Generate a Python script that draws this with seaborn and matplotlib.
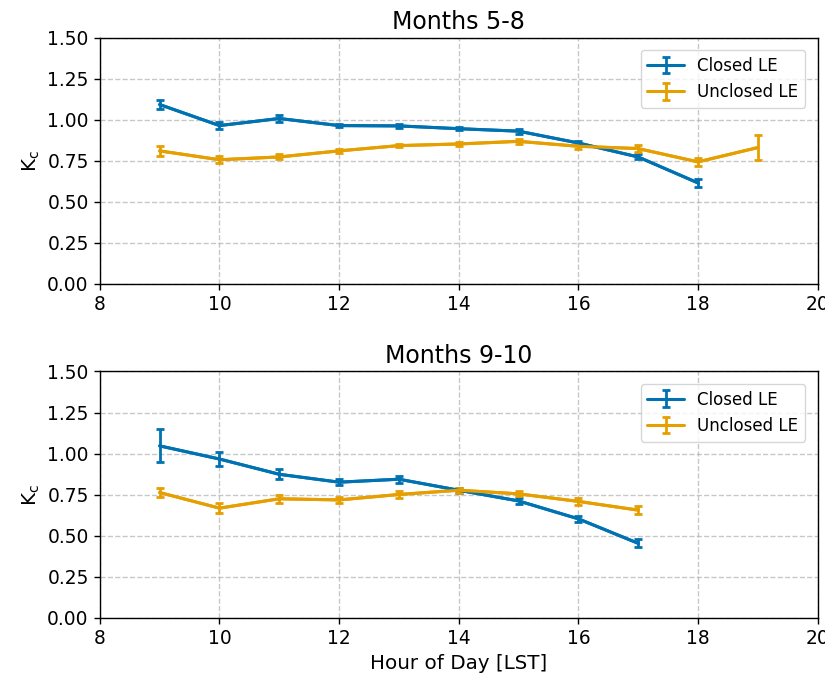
import numpy as np
import pandas as pd
import matplotlib
matplotlib.use("Agg")
import matplotlib.pyplot as plt
import seaborn as sns

# Hourly crop coefficient (Kc) means and standard errors
hours_summer = [9, 10, 11, 12, 13, 14, 15, 16, 17, 18, 19]
closed_summer = [1.092, 0.964, 1.007, 0.964, 0.962, 0.945, 0.930, 0.858, 0.773, 0.615]
closed_summer_err = [0.03, 0.02, 0.02, 0.01, 0.01, 0.01, 0.015, 0.015, 0.015, 0.025]
unclosed_summer = [0.810, 0.756, 0.773, 0.810, 0.842, 0.852, 0.868, 0.838, 0.824, 0.743, 0.830]
unclosed_summer_err = [0.03, 0.02, 0.015, 0.01, 0.01, 0.01, 0.015, 0.015, 0.02, 0.025, 0.076]

hours_autumn = [9, 10, 11, 12, 13, 14, 15, 16, 17]
closed_autumn = [1.047, 0.967, 0.874, 0.826, 0.844, 0.777, 0.712, 0.603, 0.454]
closed_autumn_err = [0.10, 0.045, 0.03, 0.02, 0.02, 0.015, 0.02, 0.02, 0.025]
unclosed_autumn = [0.763, 0.668, 0.725, 0.718, 0.751, 0.777, 0.755, 0.709, 0.656]
unclosed_autumn_err = [0.025, 0.03, 0.025, 0.02, 0.02, 0.015, 0.015, 0.02, 0.025]

titles = ["Months 5-8", "Months 9-10"]
series_labels = ["Closed LE", "Unclosed LE"]
x_ticks = [8, 10, 12, 14, 16, 18, 20]
y_ticks = [0.0, 0.25, 0.5, 0.75, 1.0, 1.25, 1.5]

sns.set_theme(style="ticks", context="notebook")
plt.rcParams["font.family"] = ["DejaVu Sans"]
plt.rcParams["text.color"] = "black"
plt.rcParams["axes.labelcolor"] = "black"
colors = ["#0072B2", "#E69F00"]

panels = [
    (hours_summer, [closed_summer, unclosed_summer], [closed_summer_err, unclosed_summer_err]),
    (hours_autumn, [closed_autumn, unclosed_autumn], [closed_autumn_err, unclosed_autumn_err]),
]

fig, axes = plt.subplots(2, 1, figsize=(8.25, 6.82), dpi=100)
fig.subplots_adjust(left=0.121, right=0.991, top=0.945, bottom=0.094, hspace=0.355)

for ax, title, (hours, vals, errs) in zip(axes, titles, panels):
    for label, color, v, e in zip(series_labels, colors, vals, errs):
        h = hours[:len(v)]
        df = pd.DataFrame({"hour": h, "kc": v})
        sns.lineplot(data=df, x="hour", y="kc", ax=ax, color=color, lw=2.2,
                     legend=False)
        ax.errorbar(h, v, yerr=e, color=color, lw=2.2, capsize=3,
                    capthick=2, elinewidth=2, label=label)
    ax.set_xlim(8, 20)
    ax.set_ylim(0, 1.5)
    ax.set_xticks(x_ticks)
    ax.set_yticks(y_ticks)
    ax.set_yticklabels([f"{t:.2f}" for t in y_ticks])
    ax.grid(True, linestyle="--", color="#b0b0b0", alpha=0.7, lw=1)
    ax.set_axisbelow(True)
    ax.tick_params(labelsize=13.4, direction="out", length=4.5, width=1,
                   colors="black")
    for s in ax.spines.values():
        s.set_color("black")
        s.set_linewidth(1)
    ax.set_title(title, fontsize=17, color="black")
    ax.set_ylabel(r"K$_\mathrm{c}$", fontsize=14.3)
    ax.set_xlabel("")
    ax.legend(loc="upper right", fontsize=12, frameon=True, framealpha=0.8,
              edgecolor="#cccccc", fancybox=True, borderaxespad=0.75,
              handlelength=2.2)

axes[1].set_xlabel("Hour of Day [LST]", fontsize=14.3)

fig.savefig("out.png", dpi=100)
